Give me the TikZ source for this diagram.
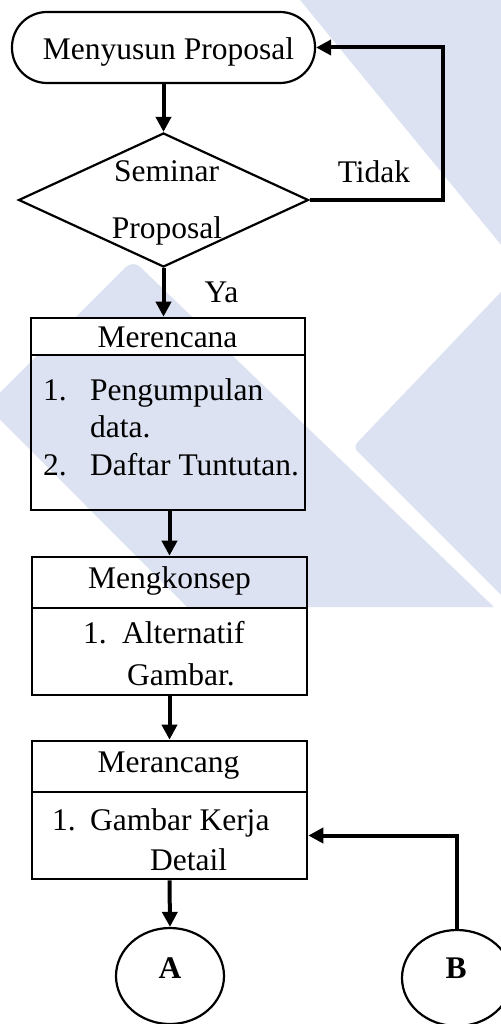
\documentclass[tikz,border=0pt]{standalone}
\usepackage{fontspec}
\setmainfont{Liberation Serif}
\usetikzlibrary{arrows.meta,shapes.geometric}
\definecolor{wmblue}{RGB}{220,226,241}
\newcommand\flowfont{\fontsize{31.5}{37.5}\selectfont}
\tikzset{
  wm/.style={fill=wmblue, draw=none},
  outline/.style={draw, line width=2.6pt, inner sep=0pt},
  term/.style={outline, line width=2.2pt, rectangle, rounded corners=35pt,
    minimum width=303pt, minimum height=71pt},
  decision/.style={outline, line width=2.2pt, diamond, minimum width=290pt,
    minimum height=134pt},
  head/.style={outline, rectangle, minimum width=#1, minimum height=37pt},
  bodybox/.style={outline, rectangle, minimum width=#1},
  connector/.style={outline, line width=2.2pt, ellipse, minimum width=108pt,
    minimum height=96pt},
  txt/.style={font=\flowfont, inner sep=0pt},
  flow/.style={line width=4pt, -{Triangle[length=15pt,width=15pt]}},
  plain/.style={line width=4pt}
}
\begin{document}
\begin{tikzpicture}[x=1pt,y=-1pt]
\useasboundingbox (0,0) rectangle (500,1024);

% background logo shapes
\fill[wm] (300,0) -- (520,0) -- (520,268) -- cycle;
\fill[wm] (-13.5,406) [rounded corners=10pt] -- (133,260) [sharp corners] -- (494,607) -- (187,607) -- cycle;
\fill[wm] (520,272) [rounded corners=6pt] -- (353,447) [sharp corners] -- (520,614) -- cycle;

% start
\node[term] (start) at (163.5,47.5) {};
\node[txt, anchor=base] (startT) at (168.5,60) {Menyusun Proposal};

% decision
\node[decision, fill=white] (sem) at (163.5,200) {};
\node[txt, anchor=base] (semA) at (166.5,182) {Seminar};
\node[txt, anchor=base] (semB) at (167,238) {Proposal};
\node[txt, anchor=base] (tidak) at (374,183) {Tidak};
\node[txt, anchor=base] (ya) at (221.5,302) {Ya};

% Merencana
\node[head=274pt, fill=white] (h1) at (168,336.5) {};
\node[bodybox=274pt, minimum height=155pt] (b1) at (168,432.5) {};
\node[txt, anchor=base] (h1T) at (167.5,347) {Merencana};
\node[txt, anchor=base west] (b1T) at (43,400)
  {\begin{tabular}[t]{@{}p{47pt}@{}l@{}}1.&Pengumpulan\\&data.\\2.&Daftar Tuntutan.\end{tabular}};

% Mengkonsep
\node[head=275pt, minimum height=51pt] (h2) at (169.5,582.5) {};
\node[bodybox=275pt, minimum height=87pt] (b2) at (169.5,651.5) {};
\node[txt, anchor=base] (h2T) at (169.5,588) {Mengkonsep};
\node[txt, anchor=base west] (b2T) at (83,643)
  {\begin{tabular}[t]{@{}p{39pt}@{}l@{}}1.&Alternatif\\[4.5pt]&\hspace{5pt}Gambar.\end{tabular}};

% Merancang
\node[head=275pt, minimum height=51pt] (h3) at (169.5,766.5) {};
\node[bodybox=275pt, minimum height=87pt] (b3) at (169.5,835.5) {};
\node[txt, anchor=base] (h3T) at (168.5,772) {Merancang};
\node[txt, anchor=base west] (b3T) at (52,830)
  {\begin{tabular}[t]{@{}p{38pt}@{}l@{}}1.&Gambar Kerja\\[2.5pt]&\hspace{60pt}Detail\end{tabular}};

% off-page connectors
\node[connector] (A) at (170,976) {};
\node[txt, anchor=base, font=\flowfont\bfseries] (AT) at (170,978) {A};
\node[connector, minimum width=110pt] (B) at (457,978) {};
\node[txt, anchor=base, font=\flowfont\bfseries] (BT) at (456,978) {B};

% flow lines
\coordinate (loop) at (443,200);
\draw[flow] (start.south) -- (sem.north);
\draw[flow] (sem.east) -- (loop) |- (start.east);
\draw[flow] (sem.south) -- (sem.south |- h1.north);
\draw[flow] (h2.north |- b1.south) -- (h2.north);
\draw[flow] (b2.south) -- (h3.north);
\draw[flow] (b3.south) -- (A.north);
\draw[flow] (B.north) |- (b3.east);
\end{tikzpicture}
\end{document}
